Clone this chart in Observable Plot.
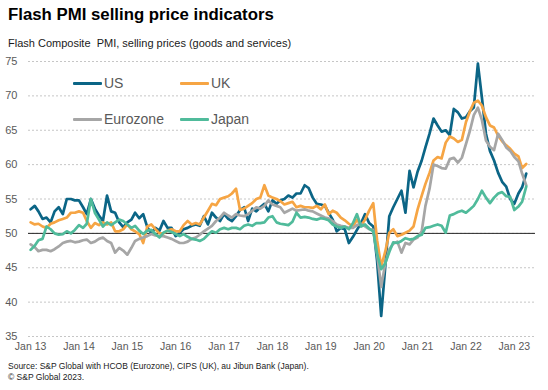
<!DOCTYPE html>
<html><head><meta charset="utf-8">
<script src="https://cdn.jsdelivr.net/npm/d3@7"></script>
<script src="https://cdn.jsdelivr.net/npm/@observablehq/plot@0.6"></script>
<style>
body{margin:0;background:#fff;font-family:"Liberation Sans",Arial,sans-serif;}
#wrap{position:relative;width:548px;height:390px;overflow:hidden;background:#fff}
#title{position:absolute;left:8px;top:5px;font-size:16.8px;font-weight:bold;color:#000;line-height:20px;white-space:nowrap}
#sub{position:absolute;left:8px;top:36px;font-size:11px;color:#1a1a1a;line-height:14px;white-space:pre}
#chart{position:absolute;left:0;top:52px}
.li{position:absolute;font-size:14px;color:#595959;line-height:16px;height:16px;white-space:nowrap;display:flex;align-items:center}
.sw{display:inline-block;width:29px;height:3px;margin-right:2px;border-radius:1px}
#cap{position:absolute;left:8px;top:361px;font-size:8.5px;line-height:11px;color:#1a1a1a;white-space:nowrap}
</style></head>
<body>
<div id="wrap">
  <div id="title">Flash PMI selling price indicators</div>
  <div id="sub">Flash Composite  PMI, selling prices (goods and services)</div>
  <div id="chart"></div>
  <div id="legend"></div>
  <div id="cap">Source: S&amp;P Global with HCOB (Eurozone), CIPS (UK), au Jibun Bank (Japan).<br>© S&amp;P Global 2023.</div>
</div>
<script>
const seriesNames = ["US", "UK", "Eurozone", "Japan"];
const seriesColors = ["#0b6586", "#f6a544", "#a6a6a6", "#50bb9b"];
const yTicks = [35, 40, 45, 50, 55, 60, 65, 70, 75];
const xTickYears = [2013, 2014, 2015, 2016, 2017, 2018, 2019, 2020, 2021, 2022, 2023];

// Monthly values, Jan 2013 .. Apr 2023
const us = [
  53.5, 54.0, 53.2, 52.1, 52.3, 51.6, 53.2, 53.8, 52.8, 55.0, 55.0, 54.8,
  54.8, 53.8, 52.8, 55.0, 53.6, 52.6, 51.8, 55.5, 53.2, 53.0, 51.6, 50.9,
  51.6, 52.0, 53.0, 52.2, 52.8, 50.9, 50.0, 50.8, 50.4, 51.8, 50.8, 50.8,
  49.6, 50.1, 50.6, 50.8, 51.1, 51.3, 51.1, 52.5, 51.3, 53.0, 52.3, 51.8,
  52.8, 52.1, 51.8, 52.5, 53.4, 53.8, 51.8, 53.6, 53.2, 53.8, 54.3, 53.2,
  54.8, 54.3, 54.8, 55.0, 55.5, 55.2, 55.8, 55.8, 57.0, 56.6, 55.2, 54.3,
  54.2, 54.0, 53.0, 52.0, 50.3, 50.8, 50.6, 48.6, 49.5, 50.5, 51.5, 52.8,
  51.5, 51.0, 46.0, 38.0, 45.0, 52.5, 53.8, 55.0, 56.2, 53.0, 59.1, 56.7,
  59.0, 60.6, 62.5, 64.5, 66.7, 65.7, 64.8, 65.0, 64.3, 68.1, 67.6, 66.7,
  66.9, 67.8, 68.3, 74.7, 69.8, 64.5, 62.0, 60.6, 58.8, 57.5, 56.8, 55.0,
  54.3, 55.8, 56.7, 58.7
];
const uk = [
  51.6, 51.3, 51.4, 51.0, 50.8, 51.4, 51.6, 51.9, 52.1, 52.3, 53.0, 53.0,
  53.2, 53.0, 51.8, 50.8, 51.5, 51.2, 51.6, 51.3, 51.6, 50.3, 50.3, 50.6,
  51.3, 50.6, 50.3, 49.9, 48.6, 51.0, 51.3, 50.6, 50.0, 50.0, 50.4, 50.6,
  50.3, 50.3, 51.2, 51.8, 51.3, 51.5, 51.3, 52.3, 53.3, 54.3, 54.1, 55.0,
  55.2, 55.4, 55.8, 56.5, 53.4, 53.6, 54.0, 54.4, 55.0, 55.2, 57.0, 55.5,
  55.2, 55.0, 54.7, 54.2, 54.4, 54.6, 53.8, 54.0, 53.8, 53.8, 53.7, 54.0,
  53.5, 54.2, 52.8, 53.3, 53.0, 52.3, 51.9, 51.4, 51.0, 52.0, 51.1, 52.0,
  53.3, 54.4, 49.0, 45.2, 47.3, 50.1, 50.6, 49.6, 49.8, 50.1, 50.4, 51.0,
  53.5, 55.5, 57.2, 58.8, 60.6, 61.1, 60.9, 63.2, 64.1, 63.8, 63.3, 63.6,
  66.2, 67.8, 69.0, 69.3, 68.6, 66.9, 65.7, 65.4, 64.2, 63.4, 62.8, 62.3,
  61.6, 61.2, 59.5, 60.1
];
const eurozone = [
  48.4, 48.0, 47.4, 47.6, 47.6, 47.4, 47.7, 48.1, 48.6, 48.8, 48.9, 48.7,
  48.8, 49.0, 49.1, 48.6, 48.8, 49.2, 49.4, 48.9, 48.6, 47.2, 47.9, 47.5,
  46.9, 47.9, 48.9, 49.2, 49.4, 49.6, 49.9, 49.7, 49.6, 49.6, 49.4, 49.2,
  48.9, 48.6, 48.6, 48.8, 49.2, 49.4, 49.8, 50.3, 50.7, 51.1, 51.8, 52.3,
  53.0, 52.6, 52.3, 52.8, 52.6, 52.5, 52.8, 53.3, 53.8, 53.6, 54.0, 54.8,
  54.2, 54.0, 53.8, 53.0, 53.3, 53.6, 53.3, 53.4, 53.5, 53.3, 53.2, 52.9,
  52.6, 52.3, 52.2, 51.8, 51.3, 51.1, 51.0, 50.8, 50.8, 51.2, 51.4, 51.0,
  50.6, 50.5, 47.0, 42.2, 45.6, 47.7, 48.5, 48.8, 47.2, 48.6, 48.4, 49.1,
  49.4, 50.3, 54.0, 56.5, 60.0, 59.8, 59.5, 59.4, 60.8, 61.0, 60.3, 61.0,
  63.0, 65.0, 67.2, 68.3, 66.5, 63.5, 62.6, 62.1, 64.5, 63.6, 62.5, 62.0,
  61.1, 60.5, 58.7, 57.0
];
const japan = [
  47.6, 48.2, 49.0, 49.2, 51.0, 50.6, 50.0, 49.8, 49.9, 50.3, 50.0, 50.5,
  51.2, 50.8, 51.4, 55.0, 53.0, 52.0, 51.0, 51.6, 51.2, 51.6, 52.0, 51.8,
  51.3, 50.8, 51.1, 50.4, 49.9, 50.4, 50.5, 49.9, 49.4, 50.1, 50.4, 50.2,
  49.9, 49.6, 49.9, 49.5, 49.2, 49.1, 48.9, 49.2, 49.8, 50.3, 50.1, 50.6,
  50.8, 50.6, 50.8, 50.8, 50.6, 51.1, 51.3, 51.1, 51.5, 51.5, 51.6, 52.3,
  52.5, 51.6, 51.4, 51.3, 51.2, 51.7, 53.0, 52.3, 52.4, 52.3, 52.1, 52.0,
  52.2, 52.1, 51.9, 51.3, 51.0, 50.8, 51.0, 50.6, 51.5, 52.8, 51.0, 51.3,
  50.7, 50.3, 47.0, 44.8, 45.6, 47.3, 48.7, 48.6, 48.9, 49.3, 49.1, 49.2,
  49.6, 49.8, 50.8, 50.9, 51.1, 51.3, 51.1, 50.1, 52.6, 52.8, 53.1, 53.3,
  53.0, 53.5, 54.0, 55.0, 56.2, 55.2, 54.4, 55.2, 55.8, 56.0, 55.4, 55.3,
  53.4, 53.9, 54.6, 56.8
];

const months = d3.utcMonth.range(new Date(Date.UTC(2013, 0, 1)), new Date(Date.UTC(2023, 4, 1)));
const seriesValues = [us, uk, eurozone, japan];
const rows = seriesNames.flatMap((name, s) =>
  months.map((date, i) => ({date, value: seriesValues[s][i], series: name}))
);
const xTicks = xTickYears.map(y => new Date(Date.UTC(y, 0, 1)));

const chart = Plot.plot({
  width: 548,
  height: 305,
  marginLeft: 28,
  marginRight: 13,
  marginTop: 9,
  marginBottom: 21,
  style: {fontFamily: '"Liberation Sans", Arial, sans-serif', color: "#595959", background: "transparent"},
  x: {type: "utc", domain: [new Date(Date.UTC(2012, 11, 16)), new Date(Date.UTC(2023, 5, 10))]},
  y: {domain: [35, 75]},
  color: {domain: seriesNames, range: seriesColors},
  marks: [
    Plot.gridY(yTicks, {stroke: "#c6c6c6", strokeOpacity: 1, strokeDasharray: "2,2"}),
    Plot.ruleY([50], {stroke: "#262626", strokeWidth: 1}),
    Plot.lineY(rows, {x: "date", y: "value", z: "series", stroke: "series", strokeWidth: 2.7}),
    Plot.axisY(yTicks, {tickSize: 0, tickPadding: 11, fontSize: 11, fill: "#595959", label: null}),
    Plot.axisX(xTicks, {tickSize: 0, tickPadding: 6, fontSize: 10.5, fill: "#595959", label: null,
      tickFormat: d => "Jan " + String(d.getUTCFullYear()).slice(2)})
  ]
});
document.getElementById("chart").appendChild(chart);

// Legend (HTML overlay)
const legendPos = [[73, 75], [180, 75], [73, 111], [180, 111]];
const legend = document.getElementById("legend");
seriesNames.forEach((name, i) => {
  const d = document.createElement("div");
  d.className = "li";
  d.style.left = legendPos[i][0] + "px";
  d.style.top = legendPos[i][1] + "px";
  const sw = document.createElement("span");
  sw.className = "sw";
  sw.style.background = seriesColors[i];
  d.appendChild(sw);
  d.appendChild(document.createTextNode(name));
  legend.appendChild(d);
});
</script>
</body></html>
